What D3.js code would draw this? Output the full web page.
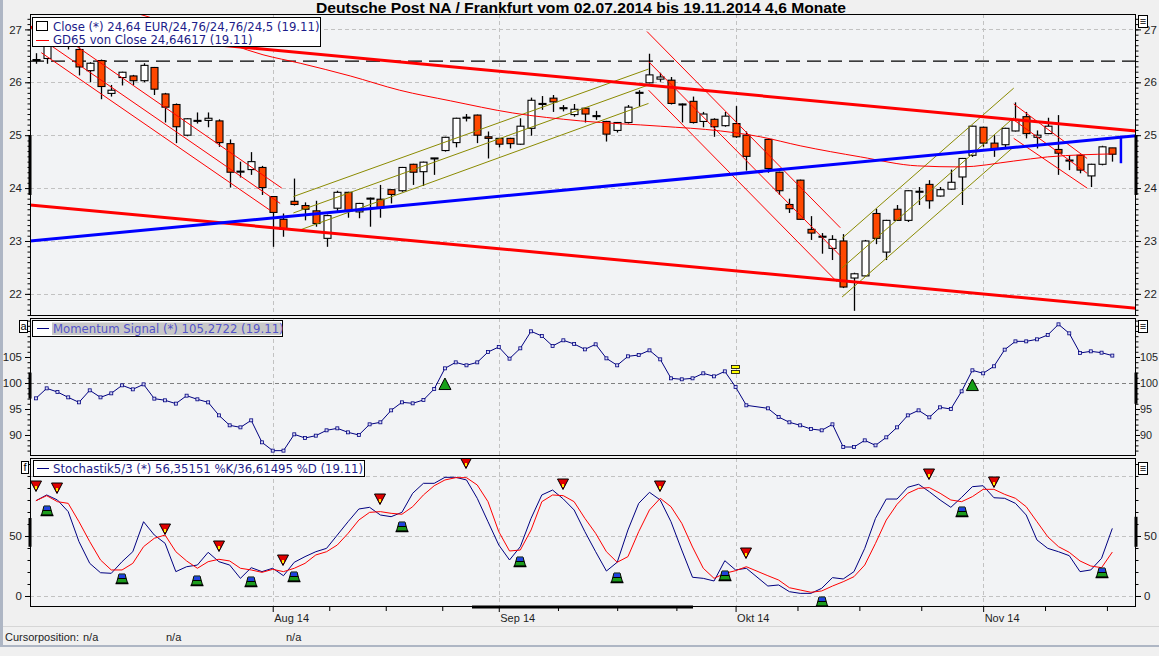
<!DOCTYPE html>
<html>
<head>
<meta charset="utf-8">
<title>Deutsche Post NA / Frankfurt</title>
<style>
body { margin: 0; background: #f0f0f0; }
svg { display: block; font-family: "Liberation Sans", Arial, sans-serif; }
.ax text { font-size: 11.5px; fill: #1e1e1e; }
.ax line { stroke: #000; }
.ax path { display: none; }
.leg { font-family: "DejaVu Sans", sans-serif; font-size: 11.7px; }
</style>
</head>
<body>
<script src="https://cdn.jsdelivr.net/npm/d3@7"></script>
<script>

// ---- data (one entry per trading day 02.07.2014 .. 19.11.2014, 03.10. has no quote) ----
var monthLabels = ["Aug 14", "Sep 14", "Okt 14", "Nov 14"];
var monthStart = [22, 43, 65, 88];

var open = [26.43,26.45,26.95,27.0,26.62,26.22,26.41,25.79,26.09,26.12,
  26.03,26.28,25.78,25.58,25.0,25.27,25.28,25.27,24.84,24.31,
  24.35,24.39,23.84,23.41,23.75,23.67,23.57,23.05,23.62,23.92,
  23.55,23.8,23.79,23.97,23.95,24.45,24.31,24.56,24.71,24.86,
  25.33,25.38,24.97,24.94,24.94,24.83,25.13,25.6,25.7,25.51,
  25.39,25.51,25.36,25.26,25.09,25.24,25.8,25.99,26.06,26.04,
  25.58,25.64,25.26,25.3,25.18,25.22,25.0,null,24.92,24.3,
  23.69,24.15,23.22,23.08,22.86,23.0,22.3,22.34,23.52,22.79,
  23.6,23.39,23.93,24.07,23.85,23.98,24.21,24.62,25.15,24.85,
  24.82,25.08,25.35,24.96,25.03,24.73,24.52,24.62,24.23,24.45,
  24.76];
var high = [26.55,27.1,27.2,27.1,26.66,26.38,26.43,25.95,26.2,26.14,
  26.36,26.29,25.8,25.6,25.32,25.43,25.43,25.3,24.92,24.5,
  24.68,24.42,23.85,23.52,24.18,23.73,23.76,23.5,23.95,23.93,
  23.72,23.82,24.06,23.98,24.4,24.46,24.5,24.57,24.97,25.33,
  25.4,25.39,25.07,24.95,24.95,25.32,25.71,25.74,25.76,25.57,
  25.59,25.52,25.46,25.27,25.25,25.57,25.85,26.54,26.18,26.1,
  25.6,25.73,25.44,25.32,25.44,25.55,25.07,null,24.93,24.31,
  23.8,24.16,23.47,23.15,23.11,23.13,22.4,23.02,23.61,23.4,
  23.68,23.96,24.02,24.15,24.02,24.35,24.57,25.18,25.16,25.0,
  25.14,25.62,25.44,25.09,25.33,25.38,24.62,24.63,24.46,24.8,
  24.76];
var low = [26.35,26.35,26.85,26.62,26.13,26.0,25.68,25.73,25.94,25.95,
  26.0,25.76,25.24,24.85,24.98,25.22,25.15,24.78,24.01,24.2,
  24.25,23.87,22.89,23.08,23.67,23.39,23.27,22.89,23.55,23.44,
  23.43,23.27,23.44,23.71,23.93,24.06,24.04,24.25,24.69,24.77,
  25.26,24.85,24.56,24.77,24.75,24.82,24.99,25.48,25.44,25.45,
  25.35,25.24,25.29,24.88,25.05,25.22,25.54,25.98,26.01,25.58,
  25.24,25.22,25.15,24.97,25.16,24.95,24.33,null,24.29,23.87,
  23.53,23.4,23.02,22.76,22.64,22.11,21.68,22.32,22.94,22.64,
  23.38,23.36,23.68,23.61,23.84,23.97,23.68,24.59,24.78,24.59,
  24.75,25.07,24.94,24.75,25.02,24.25,24.34,24.28,24.02,24.43,
  24.5];
var close = [26.41,26.95,27.05,26.68,26.29,26.36,25.92,25.85,26.19,26.03,
  26.32,25.87,25.53,25.16,25.31,25.28,25.32,24.86,24.3,24.32,
  24.5,24.01,23.54,23.22,23.69,23.6,23.33,23.48,23.92,23.57,
  23.71,23.81,23.63,23.88,24.39,24.3,24.49,24.57,24.96,25.32,
  25.34,25.0,24.94,24.83,24.84,25.17,25.66,25.59,25.63,25.52,
  25.49,25.4,25.37,25.02,25.24,25.53,25.81,26.14,26.1,25.6,
  25.59,25.24,25.4,25.16,25.36,24.97,24.6,null,24.37,23.95,
  23.61,23.41,23.15,23.09,23.03,22.13,22.38,23.0,23.05,23.39,
  23.39,23.95,23.94,23.76,23.97,24.11,24.56,25.17,24.85,24.73,
  25.13,25.28,25.03,25.0,25.17,24.66,24.53,24.34,24.45,24.78,
  24.64];

// GD65 at a few days
var gd65Idx = [7.8,15.25,21.1,24.55,29.2,33.8,38.5,44.3,50.6,58,63.6,67.3,71,76.6,81.9,85.9,90.8,94,97.3,100];
var gd65Val = [27.40,26.93,26.52,26.36,26.12,25.85,25.65,25.42,25.27,25.17,25.08,24.97,24.80,24.59,24.42,24.40,24.51,24.59,24.63,24.646];

// drawn trend lines: [day, price] end points
var blueTrend = [[-0.55, 23.0], [102.2, 24.99]];
var redTop = [[-0.55, 27.04], [102.2, 25.08]];
var redLow = [[-0.55, 23.68], [102.2, 21.73]];
var dashLevel = 26.40;
var downChannels = [
  [[3.0, 26.79], [22.84, 24.0]], [[1.5, 26.68], [22.69, 23.71]], [[0.5, 26.56], [21.76, 23.58]],
  [[56.77, 26.96], [74.73, 23.25]], [[56.92, 26.39], [74.73, 22.72]], [[56.92, 25.85], [74.42, 22.23]],
  [[90.84, 25.59], [97.66, 24.56]], [[90.84, 25.29], [97.66, 24.28]], [[90.84, 24.94], [97.66, 24.0]]
];
var upChannels = [
  [[23.92, 23.84], [56.91, 26.25]], [[23.92, 23.53], [56.91, 25.95]], [[24.55, 23.21], [56.91, 25.60]],
  [[74.89, 23.05], [90.84, 25.89]], [[74.89, 22.49], [90.84, 25.33]], [[74.89, 21.94], [90.84, 24.78]]
];
var blueMark = [[100.8, 24.99], [100.8, 24.47]];

var momentum = [97.05,98.97,98.27,97.24,96.28,98.59,97.24,98.01,99.55,98.78,
  99.74,96.99,96.67,96.03,97.56,96.86,96.28,93.78,91.86,91.47,
  92.82,88.59,86.99,86.99,90.13,89.42,89.87,90.9,91.28,90.51,
  90.0,92.05,92.44,94.74,96.28,96.09,96.73,98.85,102.82,103.97,
  103.4,103.97,105.96,106.92,104.68,106.67,109.94,109.04,107.12,108.21,
  107.5,106.47,107.44,104.74,103.4,105.13,105.38,106.28,104.55,100.9,
  100.71,100.9,101.86,101.28,102.24,99.23,95.71,null,95.13,93.46,
  92.44,91.86,91.15,90.9,92.05,87.69,87.69,88.97,88.01,89.55,
  91.47,93.78,94.74,93.4,95.32,95.0,98.4,102.44,101.86,103.21,
  106.41,108.01,108.01,108.4,109.23,111.28,109.55,105.77,106.09,105.83,
  105.27];
var momUpIdx = [38, 87], momUpLvl = [99.8, 99.6];
var momEqIdx = [65], momEqLvl = [102.5];

var stochK = [79.4,84.2,80,70.3,45.3,27.2,19.4,18.9,28.6,36.9,
  61.9,50.8,43.9,20.3,24.4,25.8,36.4,28.6,25.8,14.7,
  23.6,20.3,23.1,16.9,28.1,32.8,36.9,39.7,50.8,61.9,
  72.5,73.9,67.5,66.1,69.7,85.6,93.9,93.9,98.9,98.9,
  96.7,81.4,61.9,42.5,30,41.1,64.7,84.2,88.3,80.8,
  71.7,53.6,36.9,20.8,28.1,55,77.2,86.4,80,61.9,
  38.3,15.6,14.7,12.5,29.4,21.7,23.1,null,8.3,9.2,
  3.6,2.2,2.2,6.4,15.3,14.2,20.3,39.7,64.7,80.8,
  80.8,90.6,93.1,86.9,80,73.9,82.2,91.1,91.9,81.9,
  81.4,77.2,67.5,46.7,39.7,36.9,33.6,20.3,21.7,31.4,
  56.35];
var stochD = [79.4,83.6,78.6,77.2,61.9,45.3,30,21.7,21.7,27.2,
  41.1,48.1,50.8,36.9,29.2,23.1,28.6,30.6,29.2,23.1,
  21.7,19.7,22.2,20.3,23.1,27.2,34.2,36.9,42.5,52.2,
  63.3,69.7,70.3,68.9,68.1,74.4,84.2,91.9,96.7,98.6,
  98.6,92.5,78.6,53.6,37.5,38.3,55,78.6,84.2,83.6,
  78.6,64.7,52.2,36.9,28.1,32.8,53.6,71.7,81.4,74.4,
  60.6,40.8,23.1,14.7,18.9,21.1,24.4,null,16.9,13.3,
  6.9,5,3.1,4.2,8.3,11.9,16.1,25.8,43.9,63.3,
  76.4,85.6,89.7,90.3,85.6,80,78.6,82.8,88.9,88.9,
  84.7,81.4,74.4,61.9,49.4,41.1,36.4,29.2,25,23.6,
  36.61];
var sellIdx = [0, 2, 12, 17, 23, 32, 40, 49, 58, 66, 83, 89];
var sellLvl = [91.7, 90, 55.8, 41.9, 30, 80.6, 110.6, 93.1, 91.7, 36.1, 101.4, 95.3];
var buyIdx = [1, 8, 15, 20, 24, 34, 45, 54, 64, 73, 86, 99];
var buyLvl = [70.8, 14.2, 12.5, 11.4, 16.1, 57.8, 28.6, 15.3, 16.9, -5.3, 70.3, 18.9];

// ---- layout ----
var W = 1159, H = 656;
var X0 = 30, X1 = 1136;
var main = {top: 14, bottom: 316}, mom = {top: 318, bottom: 456}, sto = {top: 458, bottom: 607};

var x = d3.scaleLinear().domain([-0.55, 102.2]).range([X0, X1]);
var yP = d3.scaleLinear().domain([27.291, 21.582]).range([main.top, main.bottom]);
var yM = d3.scaleLinear().domain([112.5, 85.96]).range([mom.top, mom.bottom]);
var yS = d3.scaleLinear().domain([115, -9.17]).range([sto.top, sto.bottom]);

var svg = d3.select("body").append("svg").attr("width", W).attr("height", H);

svg.append("rect").attr("width", W).attr("height", H).attr("fill", "#f0f0f0");
svg.append("rect").attr("x", 0).attr("y", 0).attr("width", 3).attr("height", 647).attr("fill", "#aeb6c4");
svg.append("rect").attr("x", 0).attr("y", 645).attr("width", W).attr("height", 2).attr("fill", "#aeb6c4");

svg.append("text")
  .attr("x", 316).attr("y", 12.5)
  .attr("textLength", 530).attr("lengthAdjust", "spacingAndGlyphs")
  .style("font-weight", "bold").style("font-size", "14.5px")
  .text("Deutsche Post NA / Frankfurt vom 02.07.2014 bis 19.11.2014 4,6 Monate");

var defs = svg.append("defs");
function clipFor(id, p) {
  defs.append("clipPath").attr("id", id).append("rect")
    .attr("x", X0).attr("y", p.top).attr("width", X1 - X0).attr("height", p.bottom - p.top);
}
clipFor("cMain", main); clipFor("cMom", mom); clipFor("cSto", sto);

function panelBase(p, ys, gridVals, gridColor) {
  svg.append("rect").attr("x", X0).attr("y", p.top).attr("width", X1 - X0).attr("height", p.bottom - p.top)
    .attr("fill", "#f2f3f5");
  svg.append("g").selectAll("line").data(gridVals).join("line")
    .attr("x1", X0).attr("x2", X1)
    .attr("y1", d => Math.round(ys(d)) + 0.5).attr("y2", d => Math.round(ys(d)) + 0.5)
    .attr("stroke", gridColor || "#c2c2c2").attr("stroke-dasharray", "4,3");
  svg.append("g").selectAll("line").data(monthStart).join("line")
    .attr("x1", d => Math.round(x(d)) + 0.5).attr("x2", d => Math.round(x(d)) + 0.5)
    .attr("y1", p.top).attr("y2", p.bottom)
    .attr("stroke", "#c2c2c2").attr("stroke-dasharray", "4,3");
}

function panelAxes(p, ys, majors, minors, tight) {
  [["l", X0], ["r", X1]].forEach(function(s) {
    var r = s[0] == "r" && tight;
    var maj = (s[0] == "l" ? d3.axisLeft(ys) : d3.axisRight(ys)).tickValues(majors)
      .tickSize(r ? 4 : 5).tickPadding(r ? 0 : 3)
      .tickFormat(d3.format("d"));
    var mnr = (s[0] == "l" ? d3.axisLeft(ys) : d3.axisRight(ys)).tickValues(minors).tickSize(2.5).tickFormat("");
    svg.append("g").attr("class", "ax").attr("transform", "translate(" + s[1] + ",0)").call(mnr);
    var g = svg.append("g").attr("class", "ax").attr("transform", "translate(" + s[1] + ",0)").call(maj);
    if (r) g.selectAll("text").style("font-size", "10.8px");
  });
  svg.append("rect").attr("x", X0 + 0.5).attr("y", p.top + 0.5)
    .attr("width", X1 - X0 - 1).attr("height", p.bottom - p.top - 1)
    .attr("fill", "none").attr("stroke", "#000");
}

function smallBox(bx, by, w, h, label) {
  svg.append("rect").attr("x", bx + 0.5).attr("y", by + 0.5).attr("width", w).attr("height", h)
    .attr("fill", "#fff").attr("stroke", "#000");
  svg.append("text").attr("x", bx + w / 2 + 0.5).attr("y", by + h - 2.5).attr("text-anchor", "middle")
    .style("font-size", "11px").text(label);
}

// ---- main price panel ----
panelBase(main, yP, [22, 23, 24, 25, 26, 27]);
var gMain = svg.append("g").attr("clip-path", "url(#cMain)");

var seg = d3.line().x(d => x(d[0])).y(d => yP(d[1]));

gMain.append("line")
  .attr("x1", X0).attr("x2", X1).attr("y1", yP(dashLevel)).attr("y2", yP(dashLevel))
  .attr("stroke", "#000").attr("stroke-width", 1.2).attr("stroke-dasharray", "14,7");

var candles = d3.range(open.length).filter(i => open[i] !== null)
  .map(i => ({i: i, o: open[i], h: high[i], l: low[i], c: close[i]}));

gMain.append("g").selectAll("line").data(candles).join("line")
  .attr("x1", d => Math.round(x(d.i)) + 0.5).attr("x2", d => Math.round(x(d.i)) + 0.5)
  .attr("y1", d => yP(d.h)).attr("y2", d => yP(d.l))
  .attr("stroke", "#000").attr("stroke-width", 1.3);

gMain.append("g").selectAll("rect").data(candles).join("rect")
  .attr("x", d => Math.round(x(d.i)) - 3)
  .attr("y", d => yP(Math.max(d.o, d.c)))
  .attr("width", 7)
  .attr("height", d => Math.max(1, Math.abs(yP(d.o) - yP(d.c))))
  .attr("fill", d => d.c >= d.o ? "#ffffff" : "#ff4800")
  .attr("stroke", "#000").attr("stroke-width", 1.1);

gMain.selectAll(".dch").data(downChannels).join("path").attr("class", "dch")
  .attr("d", seg).attr("fill", "none").attr("stroke", "#ff0000").attr("stroke-width", 1);
gMain.selectAll(".uch").data(upChannels).join("path").attr("class", "uch")
  .attr("d", seg).attr("fill", "none").attr("stroke", "#8a8a00").attr("stroke-width", 1);

gMain.append("path")
  .datum(gd65Idx.map((d, k) => [d, gd65Val[k]]))
  .attr("d", d3.line().x(d => x(d[0])).y(d => yP(d[1])).curve(d3.curveMonotoneX))
  .attr("fill", "none").attr("stroke", "#ff0000").attr("stroke-width", 1);

[redTop, redLow].forEach(function(t) {
  gMain.append("path").datum(t).attr("d", seg).attr("fill", "none")
    .attr("stroke", "#ff0000").attr("stroke-width", 3);
});
gMain.append("path").datum(blueTrend).attr("d", seg).attr("fill", "none")
  .attr("stroke", "#0000ff").attr("stroke-width", 3);
gMain.append("path").datum(blueMark).attr("d", seg).attr("fill", "none")
  .attr("stroke", "#0000ff").attr("stroke-width", 2.5);

panelAxes(main, yP, [22, 23, 24, 25, 26, 27], d3.range(216, 273).map(d => d / 10));
svg.append("line").attr("x1", X0).attr("x2", X0).attr("y1", yP(25)).attr("y2", yP(23.87))
  .attr("stroke", "#000").attr("stroke-width", 3);
svg.append("line").attr("x1", X1).attr("x2", X1).attr("y1", yP(25)).attr("y2", yP(23.87))
  .attr("stroke", "#000").attr("stroke-width", 3);

// legend main
svg.append("rect").attr("x", 32.5).attr("y", 17.5).attr("width", 288).attr("height", 29)
  .attr("fill", "#fff").attr("stroke", "#000");
svg.append("rect").attr("x", 36.5).attr("y", 21.5).attr("width", 11).attr("height", 9)
  .attr("fill", "#fff").attr("stroke", "#000");
svg.append("line").attr("x1", 36).attr("x2", 49).attr("y1", 40.5).attr("y2", 40.5).attr("stroke", "#ff0000");
svg.append("text").attr("class", "leg").attr("x", 53).attr("y", 30.5).attr("fill", "#1c1c8a")
  .text("Close (*) 24,64 EUR/24,76/24,76/24,5 (19.11)");
svg.append("text").attr("class", "leg").attr("x", 53).attr("y", 44).attr("fill", "#1c1c8a")
  .text("GD65 von Close 24,64617 (19.11)");
smallBox(1138, 15, 9, 12, "\u2261");

// ---- momentum panel ----
panelBase(mom, yM, [], null);
svg.append("line").attr("x1", X0).attr("x2", X1).attr("y1", Math.round(yM(100)) + 0.5).attr("y2", Math.round(yM(100)) + 0.5)
  .attr("stroke", "#808080").attr("stroke-dasharray", "4,3");
var gMom = svg.append("g").attr("clip-path", "url(#cMom)");
var momPts = d3.range(momentum.length).filter(i => momentum[i] !== null).map(i => [i, momentum[i]]);
gMom.append("path").datum(momPts)
  .attr("d", d3.line().x(d => x(d[0])).y(d => yM(d[1])))
  .attr("fill", "none").attr("stroke", "#000080").attr("stroke-width", 1);
gMom.append("g").selectAll("rect").data(momPts).join("rect")
  .attr("x", d => x(d[0]) - 1.5).attr("y", d => yM(d[1]) - 1.5).attr("width", 3).attr("height", 3)
  .attr("fill", "#d8d8f4").attr("stroke", "#000080").attr("stroke-width", 0.8);
gMom.append("g").selectAll("path").data(momUpIdx).join("path")
  .attr("transform", (d, k) => "translate(" + x(d) + "," + yM(momUpLvl[k]) + ")")
  .attr("d", "M0,-6 L6,5.5 L-6,5.5 Z")
  .attr("fill", "#18a018").attr("stroke", "#000").attr("stroke-width", 1);
momEqIdx.forEach(function(d, k) {
  [-4.5, 0.5].forEach(function(off) {
    gMom.append("rect").attr("x", x(d) - 4).attr("y", yM(momEqLvl[k]) + off).attr("width", 8).attr("height", 3)
      .attr("fill", "#ffff00").attr("stroke", "#000").attr("stroke-width", 0.8);
  });
});
panelAxes(mom, yM, [90, 95, 100, 105], d3.range(87, 113), true);
svg.append("line").attr("x1", X0).attr("x2", X0).attr("y1", yM(102)).attr("y2", yM(97))
  .attr("stroke", "#000").attr("stroke-width", 3);
svg.append("line").attr("x1", X1).attr("x2", X1).attr("y1", yM(102)).attr("y2", yM(96))
  .attr("stroke", "#000").attr("stroke-width", 3);

svg.append("rect").attr("x", 32.5).attr("y", 320.5).attr("width", 250).attr("height", 16)
  .attr("fill", "#fff").attr("stroke", "#000");
svg.append("rect").attr("x", 52).attr("y", 322.5).attr("width", 229).attr("height", 12.5).attr("fill", "#c8c8c8");
svg.append("line").attr("x1", 37).attr("x2", 49).attr("y1", 328.5).attr("y2", 328.5).attr("stroke", "#000080");
svg.append("text").attr("class", "leg").attr("x", 53).attr("y", 332.5).attr("fill", "#5454c8")
  .text("Momentum Signal (*) 105,2722 (19.11)");
smallBox(19, 320, 8, 12, "a");
smallBox(1138, 320, 9, 12, "\u2261");

// ---- stochastic panel ----
panelBase(sto, yS, [0, 50, 100]);
var gSto = svg.append("g").attr("clip-path", "url(#cSto)");
var sLine = d3.line().x(d => x(d[0])).y(d => yS(d[1]));
var kPts = d3.range(stochK.length).filter(i => stochK[i] !== null).map(i => [i, stochK[i]]);
var dPts = d3.range(stochD.length).filter(i => stochD[i] !== null).map(i => [i, stochD[i]]);
gSto.append("path").datum(kPts).attr("d", sLine).attr("fill", "none").attr("stroke", "#000080");
gSto.append("path").datum(dPts).attr("d", sLine).attr("fill", "none").attr("stroke", "#ff0000");

var sell = gSto.append("g").selectAll("g").data(sellIdx).join("g")
  .attr("transform", (d, k) => "translate(" + Math.round(x(d)) + "," + Math.round(yS(sellLvl[k])) + ")");
sell.append("path").attr("d", "M-5.5,-5 L5.5,-5 L0,5.5 Z")
  .attr("fill", "#e00000").attr("stroke", "#000").attr("stroke-width", 1);
sell.append("rect").attr("x", -1).attr("y", 0).attr("width", 2).attr("height", 3).attr("fill", "#ffe800");

var buy = gSto.append("g").selectAll("g").data(buyIdx).join("g")
  .attr("transform", (d, k) => "translate(" + Math.round(x(d)) + "," + Math.round(yS(buyLvl[k])) + ")");
buy.append("path").attr("d", "M-3,-5 L3,-5 L5.5,4 L-5.5,4 Z")
  .attr("fill", "#1c9c1c").attr("stroke", "#000").attr("stroke-width", 1);
buy.append("rect").attr("x", -3).attr("y", -4.5).attr("width", 6).attr("height", 3.5).attr("fill", "#2040e0");
buy.append("line").attr("x1", -4).attr("x2", 4).attr("y1", -0.5).attr("y2", -0.5).attr("stroke", "#000");
buy.append("line").attr("x1", -6.5).attr("x2", 6.5).attr("y1", 4.5).attr("y2", 4.5).attr("stroke", "#000").attr("stroke-width", 1.5);

panelAxes(sto, yS, [0, 50], d3.range(-0, 111, 10));
svg.append("line").attr("x1", X0).attr("x2", X0).attr("y1", yS(65)).attr("y2", yS(41))
  .attr("stroke", "#000").attr("stroke-width", 3);
svg.append("line").attr("x1", X1).attr("x2", X1).attr("y1", yS(66)).attr("y2", yS(41))
  .attr("stroke", "#000").attr("stroke-width", 3);
svg.append("line").attr("x1", 472).attr("x2", 693).attr("y1", sto.bottom).attr("y2", sto.bottom)
  .attr("stroke", "#000").attr("stroke-width", 3);

svg.append("rect").attr("x", 33.5).attr("y", 460.5).attr("width", 331).attr("height", 16)
  .attr("fill", "#fff").attr("stroke", "#000");
svg.append("line").attr("x1", 37).attr("x2", 49).attr("y1", 468.5).attr("y2", 468.5).attr("stroke", "#000080");
svg.append("text").attr("class", "leg").attr("x", 53).attr("y", 472.5).attr("fill", "#1c1c8a")
  .text("Stochastik5/3 (*) 56,35151 %K/36,61495 %D (19.11)");
smallBox(21, 461, 7, 12, "f");
smallBox(1138, 462, 9, 12, "\u2261");

// ---- time axis ----
var monthEdges = monthStart.concat([111]);
var minorTicks = [];
for (var m = 0; m < monthStart.length; m++) {
  for (var q = 1; q < 4; q++) minorTicks.push(monthEdges[m] + (monthEdges[m + 1] - monthEdges[m]) * q / 4);
}
svg.append("g").attr("class", "ax").attr("transform", "translate(0," + sto.bottom + ")")
  .call(d3.axisBottom(x).tickValues(minorTicks.filter(d => d < 102)).tickSize(4).tickFormat(""));
var xa = svg.append("g").attr("class", "ax").attr("transform", "translate(0," + sto.bottom + ")")
  .call(d3.axisBottom(x).tickValues(monthStart).tickSize(5).tickPadding(2)
    .tickFormat((d, k) => monthLabels[k]));
xa.selectAll("text").attr("text-anchor", "start").attr("x", 1).style("font-size", "11px");

// ---- status bar ----
svg.append("line").attr("x1", 3).attr("x2", W).attr("y1", 626.5).attr("y2", 626.5).attr("stroke", "#d6d6d6");
var st = svg.append("g").style("font-size", "11px").attr("fill", "#1e1e1e");
st.append("text").attr("x", 5).attr("y", 641).text("Cursorposition:");
st.append("text").attr("x", 83).attr("y", 641).text("n/a");
st.append("text").attr("x", 166).attr("y", 641).text("n/a");
st.append("text").attr("x", 286).attr("y", 641).text("n/a");

</script>
</body>
</html>
